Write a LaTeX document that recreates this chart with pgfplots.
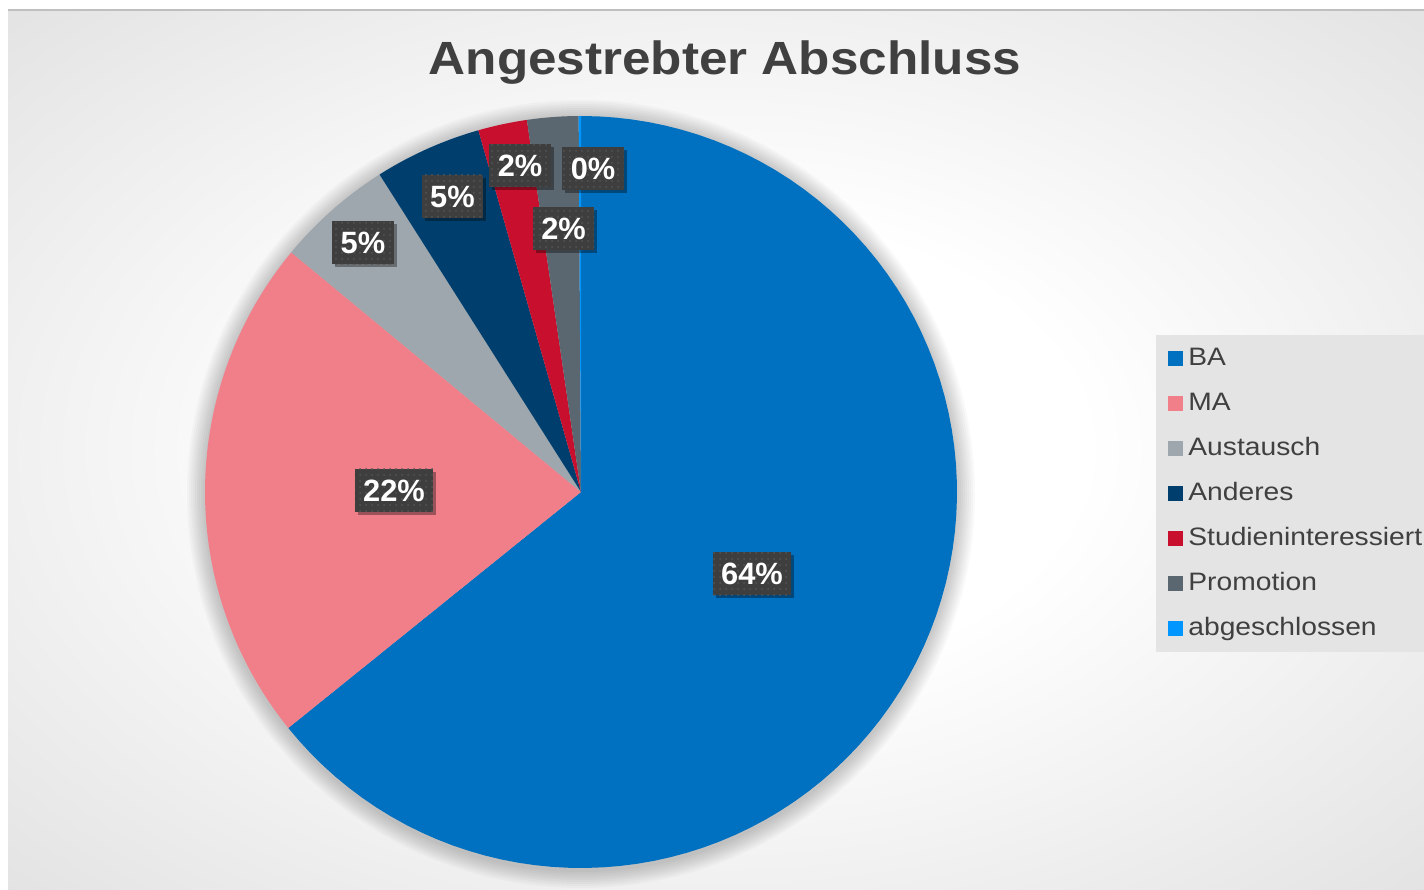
\documentclass[border=0pt]{standalone}
\usepackage{pgfplots}
\pgfplotsset{compat=1.18}
\usepackage{pgfplotstable}
\usepackage{fontspec}
\setmainfont{Liberation Sans}
\newfontfamily\stretched[FakeStretch=1.12]{Liberation Sans}
\newfontfamily\titlefont[FakeStretch=1.1]{Liberation Sans}
\usetikzlibrary{shadows,patterns}

\definecolor{sl0}{HTML}{0070C0}
\definecolor{sl1}{HTML}{F07F89}
\definecolor{sl2}{HTML}{9EA7AD}
\definecolor{sl3}{HTML}{003F6D}
\definecolor{sl4}{HTML}{C8102E}
\definecolor{sl5}{HTML}{5B6770}
\definecolor{sl6}{HTML}{0096FF}
\definecolor{txt}{HTML}{404040}
\definecolor{labbg}{HTML}{3E3E3E}
\definecolor{labdot}{HTML}{555555}
\definecolor{legbg}{HTML}{E4E4E4}

\pgfdeclareradialshading{bgshade}{\pgfpoint{0bp}{0bp}}{color(0bp)=(white);color(13bp)=(white);color(50bp)=(black!18);color(72bp)=(black!25)}

% value = share in percent, lx/ly = label position (px from bottom left)
\pgfplotstableread{
name value lx ly
BA 64.2 752 315
MA 21.8 394 398.5
Austausch 5.0 363 646
Anderes 4.6 452.5 692.5
Studieninteressiert 2.1 520 723.5
Promotion 2.2 563.5 660.5
abgeschlossen 0.1 593 720
}\piedata
\pgfplotstablecreatecol[create col/expr accum={\pgfmathaccuma+\thisrow{value}}{0}]{cum}\piedata

\begin{document}
\begin{tikzpicture}
% background
\shade[shading=bgshade] (4pt,0pt) rectangle (712pt,439.5pt);
\draw[black!25, line width=0.75pt] (4pt,439.5pt) -- (712pt,439.5pt);
% soft shadow of the pie
\foreach \k in {1,...,9}{
  \fill[black, opacity=0.025] (290.5pt,197.5pt) circle[radius=188pt+\k*1pt];
}
\begin{axis}[
  at={(0,0)}, anchor=south west,
  width=712pt, height=444.5pt, scale only axis, hide axis,
  xmin=0, xmax=1424, ymin=0, ymax=889, clip=false,
  legend image code/.code={\fill[#1] (0pt,-3.75pt) rectangle (7.5pt,3.75pt);},
  legend style={at={(axis cs:1156,554)}, anchor=north west, fill=legbg, draw=none,
    inner xsep=6pt, inner ysep=6pt, row sep=11pt, column sep=2.5pt,
    font=\stretched\fontsize{12.6}{14}\selectfont, text=txt,
    nodes={inner sep=0pt, text height=9pt, text depth=2.5pt}},
  legend cell align=left,
]
\pgfplotsinvokeforeach{0,...,6}{
  \pgfplotstablegetelem{#1}{value}\of\piedata \let\pv\pgfplotsretval
  \pgfplotstablegetelem{#1}{cum}\of\piedata \let\pc\pgfplotsretval
  \pgfmathsetmacro\aS{90-3.6*\pc}
  \pgfmathsetmacro\aE{90-3.6*(\pc-\pv)}
  \edef\doplot{\noexpand\addplot[draw=none, fill=sl#1, samples=90, domain=\aS:\aE, variable=\noexpand\t]
    ({581+376*cos(\noexpand\t)},{397+376*sin(\noexpand\t)}) -- (axis cs:581,397) -- cycle;}
  \doplot
  \pgfplotstablegetelem{#1}{name}\of\piedata
  \edef\doleg{\noexpand\addlegendentry{\pgfplotsretval}}
  \doleg
}
% data labels
\addplot[forget plot, draw=none, mark=none,
  point meta=\thisrow{value},
  nodes near coords={\pgfmathprintnumber[fixed,precision=0,assume math mode=true]{\pgfplotspointmeta}\%},
  nodes near coords align=center,
  every node near coord/.style={anchor=center, fill=labbg, text=white,
    font=\bfseries\fontsize{15.4}{16}\selectfont,
    minimum height=21.5pt, inner xsep=4.2pt, inner ysep=0pt,
    postaction={pattern=dots, pattern color=labdot},
    drop shadow={shadow xshift=1.5pt, shadow yshift=-1.5pt, opacity=0.35, fill=black}}
] table[x=lx, y=ly] {\piedata};
% title
\node[anchor=base, text=txt, font=\titlefont\bfseries\fontsize{23.3}{27}\selectfont] at (axis cs:725,814) {Angestrebter Abschluss};
\end{axis}
\pgfresetboundingbox
\path[use as bounding box] (0pt,0pt) rectangle (712pt,444.5pt);
\end{tikzpicture}
\end{document}
